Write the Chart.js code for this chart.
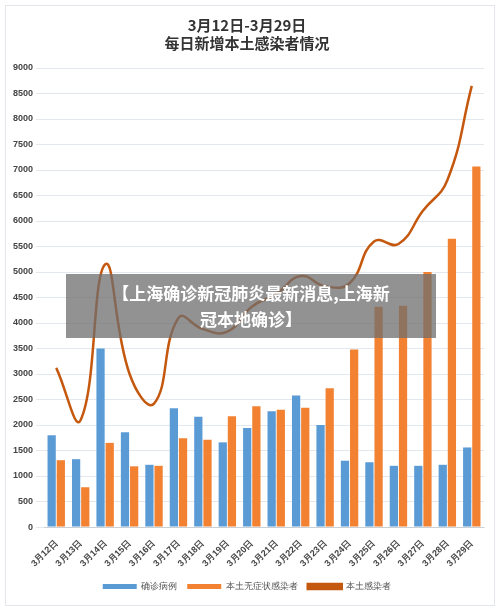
<!DOCTYPE html>
<html><head><meta charset="utf-8">
<script src="https://cdn.jsdelivr.net/npm/chart.js@4"></script>
<style>
body{margin:0;background:#fff;font-family:"Noto Sans CJK SC",sans-serif}
#wrap{position:relative;width:490px;height:601px;margin:5px;border:1px solid #e3e6ea;box-sizing:border-box}
#banner{position:absolute;left:60px;top:268px;width:370px;height:64px;background:rgba(110,110,110,0.75);color:#fff;font-weight:bold;font-size:17px;text-align:center;line-height:26px;padding-top:6px;box-sizing:border-box}
</style></head><body>
<div id="wrap"><canvas id="c" width="488" height="599"></canvas>
<div id="banner">【上海确诊新冠肺炎最新消息,上海新<br>冠本地确诊】</div></div>
<script>
const labels = ['3月12日','3月13日','3月14日','3月15日','3月16日','3月17日','3月18日','3月19日','3月20日','3月21日','3月22日','3月23日','3月24日','3月25日','3月26日','3月27日','3月28日','3月29日'];
const confirmed = [1800,1330,3500,1860,1220,2330,2160,1660,1940,2270,2580,2000,1300,1270,1200,1200,1220,1560];
const asymptomatic = [1310,780,1650,1190,1200,1740,1710,2170,2370,2300,2340,2720,3480,4320,4340,5000,5650,7070];
const local = [3120,2100,5150,3000,2420,4100,3880,3830,4320,4570,4920,4720,4780,5600,5550,6200,6800,8650];

new Chart(document.getElementById('c'), {
    data: {
        labels,
        datasets: [
            { type: 'line', label: '本土感染者', data: local, borderColor: '#c5580f', backgroundColor: '#c5580f', borderWidth: 2.5, pointRadius: 0, tension: 0.45, order: 0 },
            { type: 'bar', label: '确诊病例', data: confirmed, backgroundColor: '#5b9bd5', categoryPercentage: 0.75, barPercentage: 0.9, order: 1 },
            { type: 'bar', label: '本土无症状感染者', data: asymptomatic, backgroundColor: '#f28232', categoryPercentage: 0.75, barPercentage: 0.9, order: 1 }
        ]
    },
    options: {
        responsive: false,
        animation: false,
        layout: { padding: { left: 4, right: 10, top: 4, bottom: 4 } },
        plugins: {
            title: { display: true, text: ['3月12日-3月29日', '每日新增本土感染者情况'], color: '#333', font: { size: 15, weight: 'bold', family: 'Noto Sans CJK SC' }, padding: { top: 6, bottom: 16 } },
            legend: {
                position: 'bottom',
                labels: { boxWidth: 34, boxHeight: 5, font: { size: 9 }, color: '#555',
                    sort: (a, b) => [1, 2, 0].indexOf(a.datasetIndex) - [1, 2, 0].indexOf(b.datasetIndex) }
            }
        },
        scales: {
            x: { ticks: { maxRotation: 45, minRotation: 45, font: { size: 9, weight: 'bold' }, color: '#444' }, grid: { display: false } },
            y: { min: 0, max: 9000, ticks: { stepSize: 500, font: { size: 9, weight: 'bold' }, color: '#444', callback: v => String(v) }, grid: { color: '#e3e8ee' }, border: { display: false } }
        }
    }
});
</script></body></html>
